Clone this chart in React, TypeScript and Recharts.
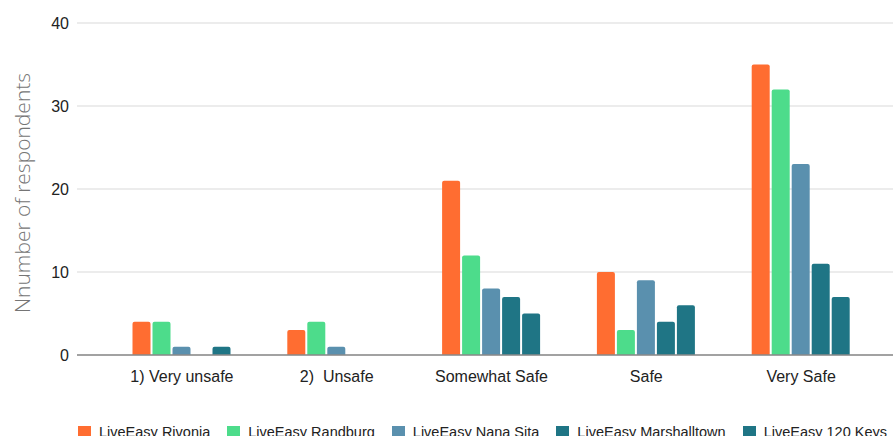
import React from 'react';
import { BarChart, Bar, XAxis, YAxis, CartesianGrid, Legend } from 'recharts';

const categories = ['1) Very unsafe', '2)  Unsafe', 'Somewhat Safe', 'Safe', 'Very Safe'];
const rivonia = [4, 3, 21, 10, 35];
const randburg = [4, 4, 12, 3, 32];
const nanaSita = [1, 1, 8, 9, 23];
const marshalltown = [0, 0, 7, 4, 11];
const keys120 = [1, 0, 5, 6, 7];
const yTicks = [0, 10, 20, 30, 40];

const series = [
  { key: 'rivonia', name: 'LiveEasy Rivonia', color: '#ff6d31', values: rivonia },
  { key: 'randburg', name: 'LiveEasy Randburg', color: '#4ddc8b', values: randburg },
  { key: 'nanaSita', name: 'LiveEasy Nana Sita', color: '#5a90ae', values: nanaSita },
  { key: 'marshalltown', name: 'LiveEasy Marshalltown', color: '#1f7585', values: marshalltown },
  { key: 'keys120', name: 'LiveEasy 120 Keys', color: '#1f7585', values: keys120 },
];

const data = categories.map((c, i) => {
  const row: Record<string, string | number> = { category: c };
  series.forEach((s) => {
    row[s.key] = s.values[i];
  });
  return row;
});

const FONT = '"Liberation Sans", Arial, sans-serif';

const renderLegend = () => (
  <div
    style={{
      display: 'flex',
      justifyContent: 'center',
      alignItems: 'center',
      height: 20,
      fontFamily: FONT,
      fontSize: 14.5,
      color: '#222',
      whiteSpace: 'nowrap',
    }}
  >
    {series.map((s, i) => (
      <div key={s.key} style={{ display: 'flex', alignItems: 'center', marginLeft: i === 0 ? 0 : 17 }}>
        <div style={{ width: 13, height: 13, background: s.color, marginRight: 8 }} />
        <span>{s.name}</span>
      </div>
    ))}
  </div>
);

const YLabel = (props: any) => {
  const { viewBox } = props;
  const cx = 22;
  const cy = viewBox.y + viewBox.height / 2 + 4;
  return (
    <text
      x={cx}
      y={cy}
      transform={`rotate(-90, ${cx}, ${cy})`}
      textAnchor="middle"
      dominantBaseline="central"
      fontFamily='"Open Sans", sans-serif'
      fontWeight={300}
      fontSize={21}
      fill="#757575"
    >
      Nnumber of respondents
    </text>
  );
};

const XTick = (props: any) => {
  const { x, y, payload } = props;
  return (
    <text
      x={x}
      y={y}
      dy={15}
      textAnchor="middle"
      fontFamily={FONT}
      fontSize={16}
      fill="#222"
      style={{ whiteSpace: 'pre' }}
      xmlSpace="preserve"
    >
      {payload.value}
    </text>
  );
};

export default function App() {
  return (
    <div style={{ position: 'absolute', left: 0, top: 0, width: 893, height: 436, overflow: 'hidden', background: '#fff' }}>
      <BarChart
        width={893}
        height={442}
        data={data}
        margin={{ top: 23, right: 0, left: 0, bottom: 0 }}
        barSize={18}
        barGap={2}
      >
        <CartesianGrid vertical={false} stroke="#d9d9d9" />
        <XAxis
          dataKey="category"
          height={67}
          padding={{ left: 27.5, right: 14.5 }}
          tickLine={false}
          axisLine={{ stroke: '#8a8a8a', strokeWidth: 1.5 }}
          tickMargin={6}
          interval={0}
          tick={<XTick />}
        />
        <YAxis
          width={77}
          domain={[0, 40]}
          ticks={yTicks}
          tickLine={false}
          axisLine={false}
          tick={{ fontSize: 16, fill: '#222', fontFamily: FONT }}
          label={<YLabel />}
        />
        <Legend
          verticalAlign="bottom"
          content={renderLegend}
          wrapperStyle={{ left: 72, width: 821 }}
        />
        {series.map((s) => (
          <Bar
            key={s.key}
            dataKey={s.key}
            name={s.name}
            fill={s.color}
            radius={[2, 2, 0, 0]}
            isAnimationActive={false}
          />
        ))}
      </BarChart>
    </div>
  );
}
